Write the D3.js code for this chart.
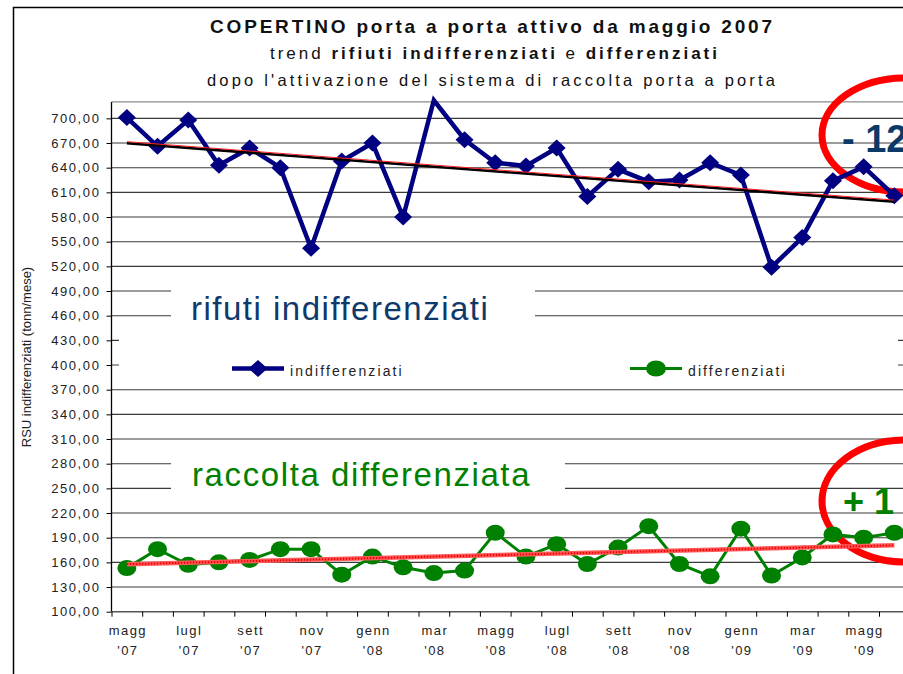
<!DOCTYPE html>
<html>
<head>
<meta charset="utf-8">
<script src="https://cdn.jsdelivr.net/npm/d3@7"></script>
<style>
  body { margin: 0; background: #fff; }
  svg { display: block; font-family: "Liberation Sans", Arial, sans-serif; }
</style>
</head>
<body>
<script>
// months from magg '07 to giu '09
const months = ["magg '07", "giu '07", "lugl '07", "ago '07", "sett '07", "ott '07",
  "nov '07", "dic '07", "genn '08", "febb '08", "mar '08", "apr '08",
  "magg '08", "giu '08", "lugl '08", "ago '08", "sett '08", "ott '08",
  "nov '08", "dic '08", "genn '09", "febb '09", "mar '09", "apr '09",
  "magg '09", "giu '09"];

const indifferenziati = [701, 666, 698, 643, 664, 640, 542, 648, 670, 580, 722, 674,
  646, 642, 664, 605, 638, 623, 625, 646, 631, 519, 555, 624, 641, 606];

const differenziati = [153, 176, 157, 160, 163, 176, 176, 145, 167, 154, 147, 150,
  196, 167, 182, 158, 178, 204, 158, 143, 201, 144, 166, 194, 190, 196];

const yTicks = [100, 130, 160, 190, 220, 250, 280, 310, 340, 370, 400, 430, 460,
  490, 520, 550, 580, 610, 640, 670, 700];

const seriesNames = ["indifferenziati", "differenziati"];

const W = 903, H = 674;
const svg = d3.select('body').append('svg')
  .attr('width', W)
  .attr('height', H);

svg.append('rect').attr('width', W).attr('height', H).attr('fill', '#fff');

// outer frame
svg.append('rect')
  .attr('x', 13.5).attr('y', 7.5)
  .attr('width', 1000).attr('height', 700)
  .attr('fill', 'none').attr('stroke', '#000').attr('stroke-width', 1.5);

const plot = { left: 111.5, right: 909.7, top: 101.9, bottom: 611.7 };

const x = d3.scaleBand()
  .domain(d3.range(months.length))
  .range([plot.left, plot.right])
  .paddingInner(0)
  .paddingOuter(0);
const xEdge = d3.scaleLinear().domain([0, months.length]).range([plot.left, plot.right]);
const y = d3.scaleLinear().domain([100, 720]).range([plot.bottom, plot.top]);
const cx = i => x(i) + x.bandwidth() / 2;

// plot top border
svg.append('line')
  .attr('x1', plot.left).attr('x2', W + 10)
  .attr('y1', plot.top).attr('y2', plot.top)
  .attr('stroke', '#8a8a8a').attr('stroke-width', 1.2);

// gridlines
svg.append('g').selectAll('line')
  .data(yTicks.filter(d => d > 100))
  .join('line')
  .attr('x1', plot.left).attr('x2', W + 10)
  .attr('y1', d => y(d)).attr('y2', d => y(d))
  .attr('stroke', '#3a3a3a').attr('stroke-width', 1.1);

// white boxes that hide parts of the grid
const boxes = [
  { x: 171, y: 276, w: 364, h: 50 },
  { x: 171, y: 450, w: 394, h: 48 },
  { x: 119, y: 330, w: 779, h: 50 }
];
svg.append('g').selectAll('rect')
  .data(boxes)
  .join('rect')
  .attr('x', d => d.x).attr('y', d => d.y)
  .attr('width', d => d.w).attr('height', d => d.h)
  .attr('fill', '#fff');

// y axis
const itFmt = d3.formatLocale({ decimal: ',', thousands: '.', grouping: [3], currency: ['€', ''] }).format('.2f');
const yAxis = svg.append('g')
  .attr('transform', `translate(${plot.left},0)`)
  .call(d3.axisLeft(y).tickValues(yTicks).tickSize(5).tickSizeOuter(0).tickPadding(6).tickFormat(itFmt));
yAxis.select('.domain').attr('stroke', '#000').attr('stroke-width', 1.3)
  .attr('d', `M0,${plot.top}V${plot.bottom}`);
yAxis.selectAll('.tick line').attr('stroke', '#000');
yAxis.selectAll('.tick text')
  .attr('font-size', 13)
  .attr('letter-spacing', 1.6)
  .attr('fill', '#222')
  .attr('font-family', '"Liberation Sans", Arial, sans-serif');

// x axis
const xAxis = svg.append('g')
  .attr('transform', `translate(0,${plot.bottom})`)
  .call(d3.axisBottom(xEdge).ticks(months.length).tickSize(5).tickSizeOuter(0).tickFormat(''));
xAxis.select('.domain').attr('stroke', '#555').attr('stroke-width', 1.4)
  .attr('d', `M${plot.left},0H${W + 10}`);
xAxis.selectAll('.tick line').attr('stroke', '#000');

const xl = svg.append('g').selectAll('text')
  .data(months.map((m, i) => ({ m, i })).filter(d => d.i % 2 === 0))
  .join('text')
  .attr('text-anchor', 'middle')
  .attr('font-size', 13)
  .attr('letter-spacing', 1.4)
  .attr('fill', '#222');
xl.append('tspan')
  .attr('x', d => cx(d.i) + 1).attr('y', 635)
  .text(d => d.m.split(' ')[0]);
xl.append('tspan')
  .attr('x', d => cx(d.i) + 1).attr('y', 655)
  .text(d => d.m.split(' ')[1]);

// y label
svg.append('text')
  .attr('transform', 'translate(31,357) rotate(-90)')
  .attr('text-anchor', 'middle')
  .attr('font-size', 13)
  .attr('fill', '#222')
  .text('RSU indifferenziati (tonn/mese)');

// red ellipses
svg.append('g').selectAll('ellipse')
  .data([{ cy: 135, ry: 57 }, { cy: 501, ry: 61 }])
  .join('ellipse')
  .attr('cx', 905).attr('cy', d => d.cy)
  .attr('rx', 83).attr('ry', d => d.ry)
  .attr('fill', 'none').attr('stroke', '#ff0000').attr('stroke-width', 7);

svg.append('text')
  .attr('x', 842).attr('y', 152)
  .attr('font-size', 38).attr('font-weight', 'bold')
  .attr('fill', '#0b3a68')
  .text('- 12');
svg.append('text')
  .attr('x', 843).attr('y', 514)
  .attr('font-size', 36).attr('font-weight', 'bold')
  .attr('fill', '#008000')
  .text('+ 1');

// big labels
svg.append('text')
  .attr('x', 191).attr('y', 320)
  .attr('font-size', 33).attr('letter-spacing', 1.5)
  .attr('fill', '#10396b')
  .text('rifuti indifferenziati');
svg.append('text')
  .attr('x', 192).attr('y', 486)
  .attr('font-size', 33).attr('letter-spacing', 1.6)
  .attr('fill', '#008000')
  .text('raccolta differenziata');

// series
const line = d3.line().x((d, i) => cx(i)).y(d => y(d));
const navy = '#000080', green = '#008000';

svg.append('path')
  .datum(indifferenziati)
  .attr('d', line)
  .attr('fill', 'none').attr('stroke', navy).attr('stroke-width', 4.5)
  .attr('stroke-linejoin', 'miter');

const diamond = (px, py, hw, hh) => `M${px},${py - hh}L${px + hw},${py}L${px},${py + hh}L${px - hw},${py}Z`;

svg.append('g').selectAll('path')
  .data(indifferenziati.map((v, i) => ({ v, i })).filter(d => d.v <= 720))
  .join('path')
  .attr('d', d => diamond(cx(d.i), y(d.v), 9, 8.5))
  .attr('fill', navy);

svg.append('path')
  .datum(differenziati)
  .attr('d', line)
  .attr('fill', 'none').attr('stroke', green).attr('stroke-width', 3);

svg.append('g').selectAll('ellipse')
  .data(differenziati)
  .join('ellipse')
  .attr('cx', (d, i) => cx(i)).attr('cy', d => y(d))
  .attr('rx', 9.5).attr('ry', 8)
  .attr('fill', green);

// linear trends
function trend(vals) {
  const n = vals.length;
  const mx = d3.mean(vals, (d, i) => i);
  const my = d3.mean(vals);
  let sxy = 0, sxx = 0;
  vals.forEach((v, i) => { sxy += (i - mx) * (v - my); sxx += (i - mx) * (i - mx); });
  const b = sxy / sxx, a = my - b * mx;
  return [0, n - 1].map(i => ({ i, v: a + b * i }));
}

const tI = trend(indifferenziati);
svg.append('line')
  .attr('x1', cx(tI[0].i)).attr('y1', y(tI[0].v) + 0.8)
  .attr('x2', cx(tI[1].i)).attr('y2', y(tI[1].v) + 0.8)
  .attr('stroke', '#000').attr('stroke-width', 2.6);
svg.append('line')
  .attr('x1', cx(tI[0].i)).attr('y1', y(tI[0].v) - 0.8)
  .attr('x2', cx(tI[1].i)).attr('y2', y(tI[1].v) - 0.8)
  .attr('stroke', '#ff2020').attr('stroke-width', 1);

const tD = trend(differenziati);
svg.append('line')
  .attr('x1', cx(tD[0].i)).attr('y1', y(tD[0].v))
  .attr('x2', cx(tD[1].i)).attr('y2', y(tD[1].v))
  .attr('stroke', '#ff5a5a').attr('stroke-width', 4.5);
svg.append('line')
  .attr('x1', cx(tD[0].i)).attr('y1', y(tD[0].v))
  .attr('x2', cx(tD[1].i)).attr('y2', y(tD[1].v))
  .attr('stroke', '#f00000').attr('stroke-width', 2)
  .attr('stroke-dasharray', '1.5,1.5');

// legend
const legend = [
  { name: seriesNames[0], x0: 232, color: navy, mark: 'diamond', tx: 290 },
  { name: seriesNames[1], x0: 630, color: green, mark: 'circle', tx: 688 }
];
const lg = svg.append('g').selectAll('g').data(legend).join('g');
lg.append('line')
  .attr('x1', d => d.x0).attr('x2', d => d.x0 + 52)
  .attr('y1', 368.5).attr('y2', 368.5)
  .attr('stroke', d => d.color)
  .attr('stroke-width', d => d.mark === 'diamond' ? 4.5 : 3);
lg.filter(d => d.mark === 'diamond').append('path')
  .attr('d', d => diamond(d.x0 + 26, 368.5, 9.5, 8.5))
  .attr('fill', d => d.color);
lg.filter(d => d.mark === 'circle').append('ellipse')
  .attr('cx', d => d.x0 + 26).attr('cy', 368.5)
  .attr('rx', 10).attr('ry', 8)
  .attr('fill', d => d.color);
lg.append('text')
  .attr('x', d => d.tx).attr('y', 376)
  .attr('font-size', 14).attr('letter-spacing', 2.1)
  .attr('fill', '#222')
  .text(d => d.name);

// titles
svg.append('text')
  .attr('x', 210).attr('y', 33)
  .attr('font-size', 19).attr('font-weight', 'bold')
  .attr('textLength', 562).attr('lengthAdjust', 'spacing')
  .attr('fill', '#111')
  .text('COPERTINO porta a porta attivo da maggio 2007');

const t2 = svg.append('text')
  .attr('x', 270).attr('y', 59)
  .attr('font-size', 17)
  .attr('textLength', 447).attr('lengthAdjust', 'spacing')
  .attr('fill', '#111');
[['trend ', 'normal'], ['rifiuti indifferenziati', 'bold'], [' e ', 'normal'], ['differenziati', 'bold']]
  .forEach(([s, w]) => t2.append('tspan').attr('font-weight', w).text(s));

svg.append('text')
  .attr('x', 207).attr('y', 86)
  .attr('font-size', 16.5)
  .attr('textLength', 568).attr('lengthAdjust', 'spacing')
  .attr('fill', '#111')
  .text("dopo l'attivazione del sistema di raccolta porta a porta");
</script>
</body>
</html>
